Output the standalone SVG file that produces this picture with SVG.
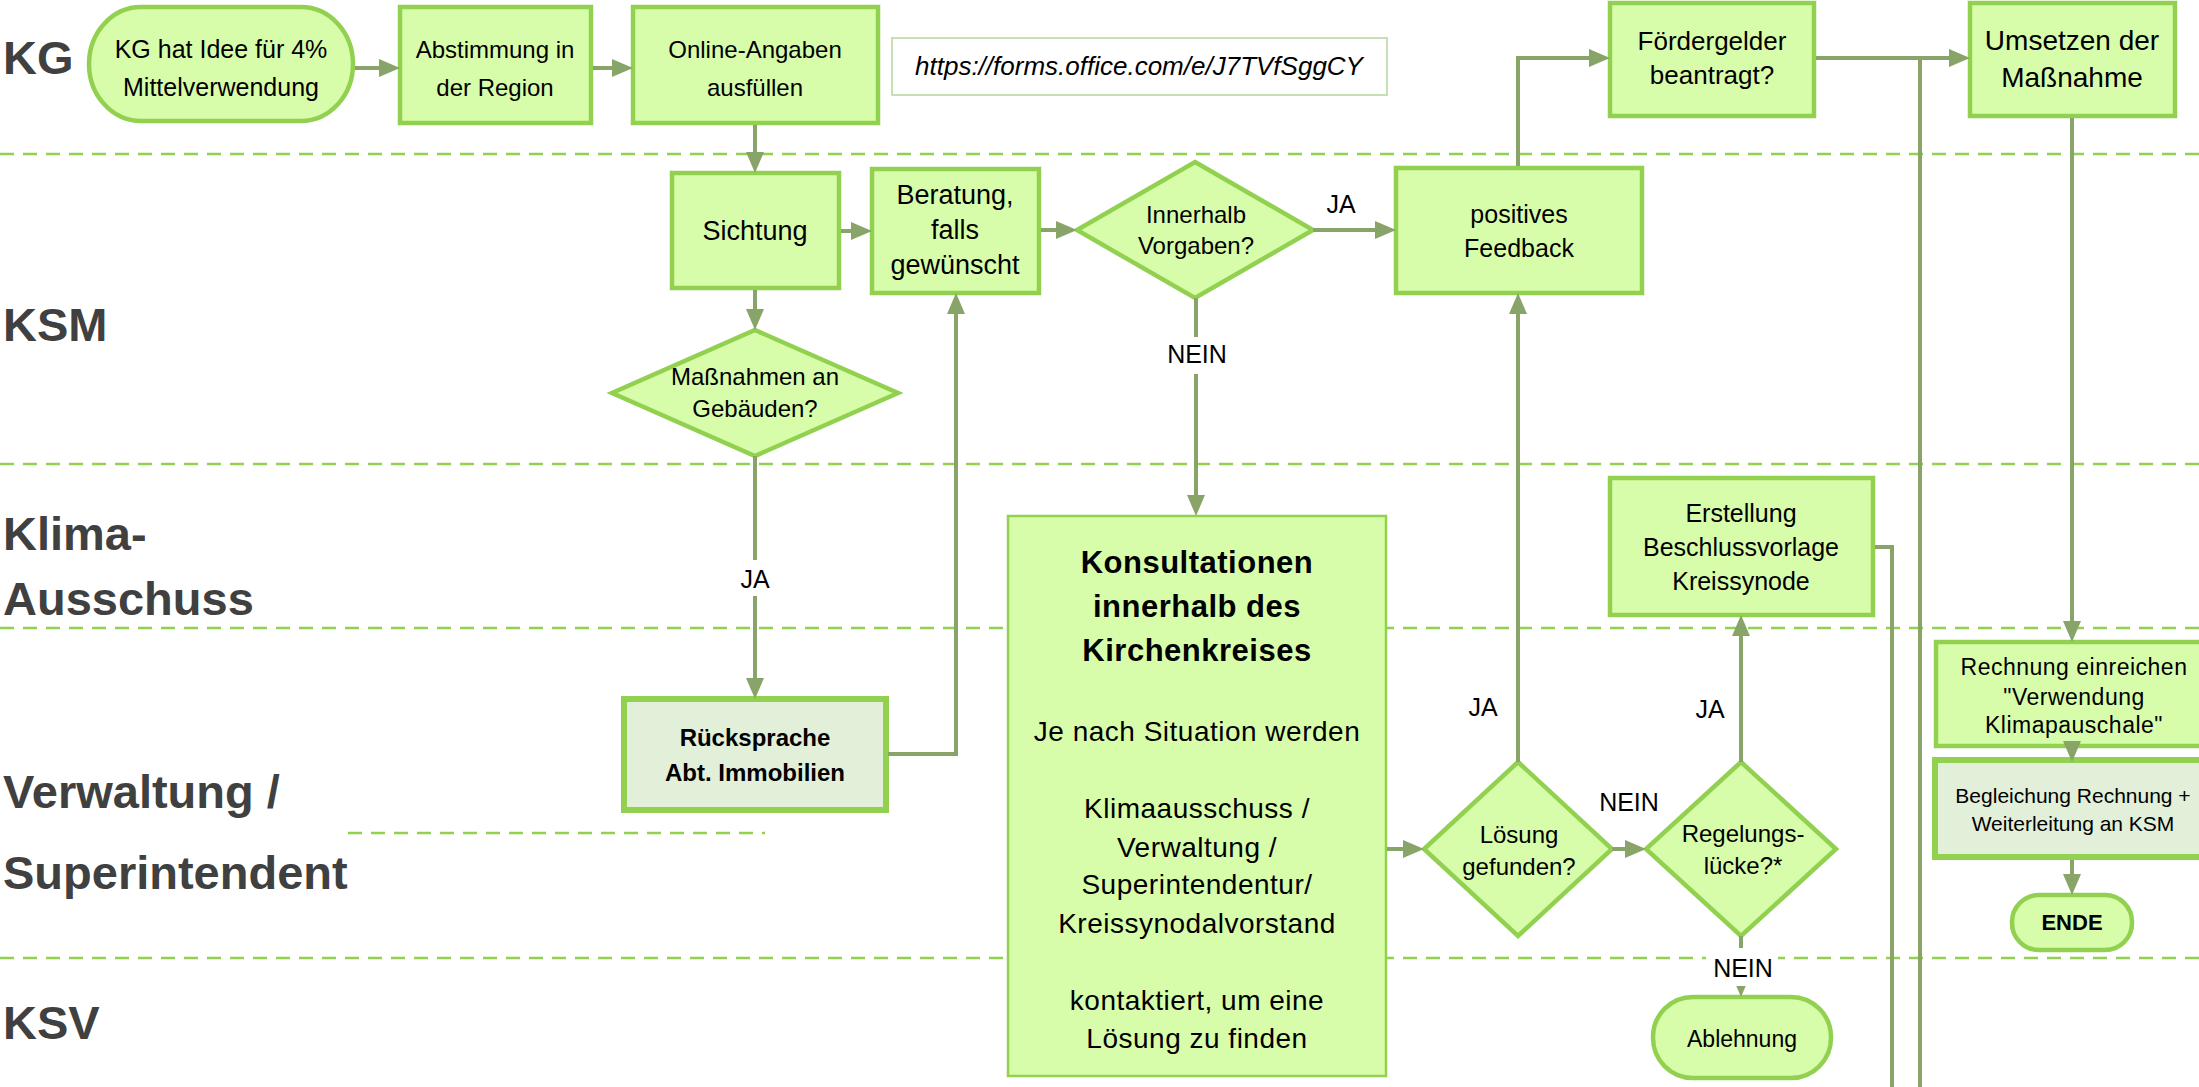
<svg xmlns="http://www.w3.org/2000/svg" width="2199" height="1087" viewBox="0 0 2199 1087">
<style>
.bg{fill:#ffffff}
.lane{stroke:#92D050;stroke-width:2.5;stroke-dasharray:14 9;fill:none}
.nd{fill:#D8FDAA;stroke:#92D050;stroke-width:4.5}
.gr{fill:#E2EFD9;stroke:#92D050;stroke-width:6}
.thin{fill:#D8FDAA;stroke:#92D050;stroke-width:2.5}
.url{fill:#ffffff;stroke:#C5E0B4;stroke-width:2}
.t{font-family:"Liberation Sans",Arial,sans-serif;fill:#000;text-anchor:middle}
.ll{font-family:"Liberation Sans",Arial,sans-serif;font-weight:bold;font-size:47px;fill:#404040}
.c{fill:none;stroke:#88A468;stroke-width:4}
.a{marker-end:url(#ah)}
.lb{font-family:"Liberation Sans",Arial,sans-serif;font-size:25px;fill:#000;text-anchor:middle}
</style>
<defs>
<marker id="ah" viewBox="0 0 21 18" markerWidth="21" markerHeight="18" refX="15" refY="9" orient="auto" markerUnits="userSpaceOnUse"><path d="M0,0 L21,9 L0,18 z" fill="#88A468"/></marker>
</defs>
<rect class="bg" x="0" y="0" width="2199" height="1087"/>
<g id="lanes">
<line class="lane" x1="0" y1="154" x2="2199" y2="154"/>
<line class="lane" x1="0" y1="464" x2="2199" y2="464"/>
<line class="lane" x1="0" y1="628" x2="2199" y2="628"/>
<line class="lane" x1="348" y1="833" x2="765" y2="833"/>
<line class="lane" x1="0" y1="958" x2="2199" y2="958"/>
<text class="ll" x="3" y="74">KG</text>
<text class="ll" x="3" y="341">KSM</text>
<text class="ll" x="3" y="550">Klima-</text>
<text class="ll" x="3" y="615">Ausschuss</text>
<text class="ll" x="3" y="808">Verwaltung /</text>
<text class="ll" x="3" y="889">Superintendent</text>
<text class="ll" x="3" y="1039">KSV</text>
</g>
<g id="n_start"><rect class="nd" x="89" y="7" width="264" height="114" rx="52" ry="57"/>
<text class="t" font-size="25" x="221" y="58">KG hat Idee für 4%</text><text class="t" font-size="25" x="221" y="96">Mittelverwendung</text></g>
<g id="n_abstimmung"><rect class="nd" x="400" y="7" width="191" height="116"/>
<text class="t" font-size="24" x="495" y="58">Abstimmung in</text><text class="t" font-size="24" x="495" y="96">der Region</text></g>
<g id="n_online"><rect class="nd" x="633" y="7" width="245" height="116"/>
<text class="t" font-size="24" x="755" y="58">Online-Angaben</text><text class="t" font-size="24" x="755" y="96">ausfüllen</text></g>
<g id="n_url"><rect class="url" x="892" y="38" width="495" height="57"/>
<text class="t" font-size="26" font-style="italic" x="1139" y="75">https://forms.office.com/e/J7TVfSggCY</text></g>
<g id="n_foerder"><rect class="nd" x="1610" y="3" width="204" height="113"/>
<text class="t" font-size="26" x="1712" y="50">Fördergelder</text><text class="t" font-size="26" x="1712" y="84">beantragt?</text></g>
<g id="n_umsetzen"><rect class="nd" x="1970" y="3" width="205" height="113"/>
<text class="t" font-size="28" x="2072" y="50">Umsetzen der</text><text class="t" font-size="28" x="2072" y="87">Maßnahme</text></g>
<g id="n_sichtung"><rect class="nd" x="672" y="173" width="167" height="115"/>
<text class="t" font-size="27" x="755" y="240">Sichtung</text></g>
<g id="n_beratung"><rect class="nd" x="872" y="169" width="167" height="124"/>
<text class="t" font-size="27" x="955" y="204">Beratung,</text><text class="t" font-size="27" x="955" y="239">falls</text><text class="t" font-size="27" x="955" y="274">gewünscht</text></g>
<g id="d_innerhalb"><polygon class="nd" points="1195,162 1313,230 1195,298 1077,230"/>
<text class="t" font-size="24" x="1196" y="223">Innerhalb</text><text class="t" font-size="24" x="1196" y="254">Vorgaben?</text></g>
<g id="n_feedback"><rect class="nd" x="1396" y="168" width="246" height="125"/>
<text class="t" font-size="25" x="1519" y="223">positives</text><text class="t" font-size="25" x="1519" y="257">Feedback</text></g>
<g id="d_massnahmen"><polygon class="nd" points="755,330 898,393 755,456 612,393"/>
<text class="t" font-size="24" x="755" y="385">Maßnahmen an</text><text class="t" font-size="24" x="755" y="417">Gebäuden?</text></g>
<g id="n_konsult"><rect class="thin" x="1008" y="516" width="378" height="560"/>
<g class="t" font-weight="bold" font-size="31" letter-spacing="0.5">
<text x="1197" y="573">Konsultationen</text><text x="1197" y="617">innerhalb des</text><text x="1197" y="661">Kirchenkreises</text></g>
<g class="t" font-size="28" letter-spacing="0.5">
<text x="1197" y="741">Je nach Situation werden</text>
<text x="1197" y="818">Klimaausschuss /</text>
<text x="1197" y="857">Verwaltung /</text>
<text x="1197" y="894">Superintendentur/</text>
<text x="1197" y="933">Kreissynodalvorstand</text>
<text x="1197" y="1010">kontaktiert, um eine</text>
<text x="1197" y="1048">Lösung zu finden</text></g></g>
<g id="n_erstellung"><rect class="nd" x="1610" y="478" width="263" height="137"/>
<text class="t" font-size="25" x="1741" y="522">Erstellung</text><text class="t" font-size="25" x="1741" y="556">Beschlussvorlage</text><text class="t" font-size="25" x="1741" y="590">Kreissynode</text></g>
<g id="n_rueck"><rect class="gr" x="624" y="699" width="262" height="111"/>
<text class="t" font-size="24" font-weight="bold" x="755" y="746">Rücksprache</text><text class="t" font-size="24" font-weight="bold" x="755" y="781">Abt. Immobilien</text></g>
<g id="d_loesung"><polygon class="nd" points="1518,762 1612,849 1518,936 1424,849"/>
<text class="t" font-size="24" x="1519" y="843">Lösung</text><text class="t" font-size="24" x="1519" y="875">gefunden?</text></g>
<g id="d_regelung"><polygon class="nd" points="1741,762 1836,849 1741,936 1646,849"/>
<text class="t" font-size="24" x="1743" y="842">Regelungs-</text><text class="t" font-size="24" x="1743" y="874">lücke?*</text></g>
<g id="n_ablehnung"><rect class="nd" x="1653" y="997" width="178" height="81" rx="40" ry="40"/>
<text class="t" font-size="23" x="1742" y="1047">Ablehnung</text></g>
<g id="n_rechnung"><rect class="nd" x="1936" y="642" width="274" height="104"/>
<g class="t" font-size="23" letter-spacing="0.5"><text x="2074" y="675">Rechnung einreichen</text><text x="2074" y="705">"Verwendung</text><text x="2074" y="733">Klimapauschale"</text></g></g>
<g id="n_begleichung"><rect class="gr" x="1935" y="760" width="275" height="97"/>
<text class="t" font-size="21" x="2073" y="803">Begleichung Rechnung +</text><text class="t" font-size="21" x="2073" y="831">Weiterleitung an KSM</text></g>
<g id="n_ende"><rect class="nd" x="2012" y="895" width="120" height="55" rx="27" ry="27"/>
<text class="t" font-size="22" font-weight="bold" x="2072" y="930">ENDE</text></g>
<g id="connectors">
<path class="c a" d="M355,68 H394"/>
<path class="c a" d="M593,68 H627"/>
<path class="c a" d="M755,125 V167"/>
<path class="c a" d="M841,231 H866"/>
<path class="c a" d="M1041,230 H1071"/>
<path class="c a" d="M1313,230 H1390"/>
<path class="c a" d="M755,290 V324"/>
<path class="c a" d="M755,456 V693"/>
<path class="c a" d="M888,754 H956 V299"/>
<path class="c a" d="M1196,298 V510"/>
<path class="c a" d="M1387,849 H1418"/>
<path class="c a" d="M1612,849 H1640"/>
<path class="c a" d="M1518,762 V299"/>
<path class="c a" d="M1518,166 V58 H1604"/>
<path class="c a" d="M1741,762 V621"/>
<path class="c a" d="M1741,936 V991"/>
<path class="c a" d="M1816,58 H1964"/>
<path class="c" d="M1920,58 V1087"/>
<path class="c" d="M1875,547 H1892 V1087"/>
<path class="c a" d="M2072,118 V636"/>
<path class="c a" d="M2072,744 V756"/>
<path class="c a" d="M2072,860 V889"/>
<rect class="bg" x="738" y="560" width="34" height="36"/>
<rect class="bg" x="1163" y="337" width="68" height="37"/>
<rect class="bg" x="1706" y="948" width="72" height="38"/>
<text class="lb" x="1341" y="213">JA</text>
<text class="lb" x="1197" y="363">NEIN</text>
<text class="lb" x="755" y="588">JA</text>
<text class="lb" x="1483" y="716">JA</text>
<text class="lb" x="1710" y="718">JA</text>
<text class="lb" x="1629" y="811">NEIN</text>
<text class="lb" x="1743" y="977">NEIN</text>
</g>
</svg>
